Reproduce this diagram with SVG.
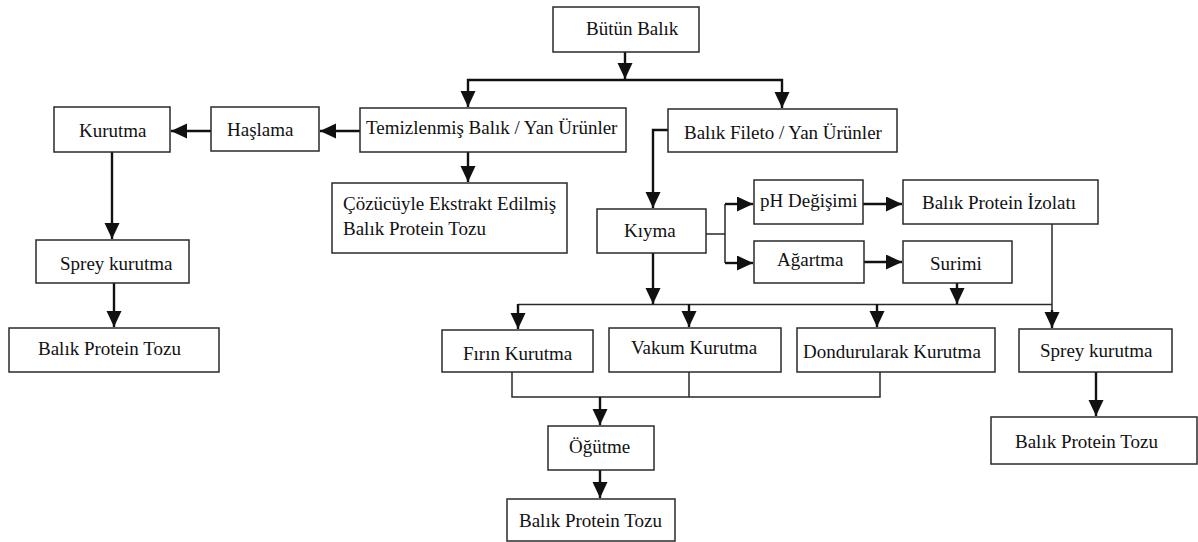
<svg xmlns="http://www.w3.org/2000/svg" width="1198" height="542" viewBox="0 0 1198 542">
<style>
.box{fill:#fff;stroke:#2a2a2a;stroke-width:1.5}
.t{font-family:"Liberation Serif","Times New Roman",Times,"Tinos","Noto Serif","DejaVu Serif","FreeSerif",serif;font-size:19px;fill:#111}
.a{fill:none;stroke:#111;stroke-width:2.4;marker-end:url(#ah)}
.l{fill:none;stroke:#2a2a2a;stroke-width:1.5}
</style>
<defs>
<marker id="ah" markerUnits="userSpaceOnUse" markerWidth="20" markerHeight="20" refX="16" refY="7.5" orient="auto">
<path d="M0,0 L16,7.5 L0,15 Z" fill="#111"/>
</marker>
</defs>
<rect width="1198" height="542" fill="#fff"/>
<g id="connectors">
<path class="a" d="M625,52 V79"/>
<path class="a" d="M625,80 H468 V107"/>
<path class="a" d="M625,80 H782 V108"/>
<path class="a" d="M360,131 H320"/>
<path class="a" d="M211,131 H171"/>
<path class="a" d="M112,152 V239"/>
<path class="a" d="M114,283 V327"/>
<path class="a" d="M468,152 V182"/>
<path class="a" d="M668,130 H653 V208"/>
<path class="l" d="M706,234 H725 M725,204 V263"/>
<path class="a" d="M725,204 H753"/>
<path class="a" d="M725,263 H753"/>
<path class="a" d="M863,204 H902"/>
<path class="a" d="M864,262 H902"/>
<path class="a" d="M653,253 V304"/>
<path class="l" d="M518,304.5 H1052"/>
<path class="a" d="M518,304 V329"/>
<path class="a" d="M689,304 V327"/>
<path class="a" d="M877,304 V327"/>
<path class="a" d="M957,283 V304"/>
<path class="l" d="M1052,224 V316"/>
<path class="a" d="M1052,310 V328"/>
<path class="l" d="M512,372 V397 H880 V372 M689,372 V397"/>
<path class="a" d="M600,397 V425"/>
<path class="a" d="M600,470 V498"/>
<path class="a" d="M1096,372 V416"/>
</g>
<g id="n-butun"><rect class="box" x="553" y="7" width="146" height="45"/><text class="t" x="586" y="35">Bütün Balık</text></g>
<g id="n-temiz"><rect class="box" x="360" y="108" width="266" height="44"/><text class="t" x="366" y="134">Temizlenmiş Balık / Yan Ürünler</text></g>
<g id="n-fileto"><rect class="box" x="668" y="109" width="229" height="43"/><text class="t" x="684" y="139">Balık Fileto / Yan Ürünler</text></g>
<g id="n-haslama"><rect class="box" x="211" y="107" width="108" height="44"/><text class="t" x="227" y="136">Haşlama</text></g>
<g id="n-kurutma"><rect class="box" x="54" y="107" width="116" height="45"/><text class="t" x="79" y="137">Kurutma</text></g>
<g id="n-sprey1"><rect class="box" x="36" y="240" width="153" height="43"/><text class="t" x="60" y="270">Sprey kurutma</text></g>
<g id="n-toz1"><rect class="box" x="9" y="328" width="210" height="44"/><text class="t" x="38" y="355">Balık Protein Tozu</text></g>
<g id="n-cozucu"><rect class="box" x="332" y="183" width="235" height="70"/><text class="t" x="343" y="210">Çözücüyle Ekstrakt Edilmiş</text><text class="t" x="343" y="235">Balık Protein Tozu</text></g>
<g id="n-kiyma"><rect class="box" x="597" y="209" width="109" height="44"/><text class="t" x="624" y="237">Kıyma</text></g>
<g id="n-ph"><rect class="box" x="754" y="180" width="109" height="44"/><text class="t" x="760" y="207">pH Değişimi</text></g>
<g id="n-agartma"><rect class="box" x="754" y="241" width="110" height="42"/><text class="t" x="777" y="266">Ağartma</text></g>
<g id="n-izolat"><rect class="box" x="903" y="180" width="195" height="44"/><text class="t" x="922" y="209">Balık Protein İzolatı</text></g>
<g id="n-surimi"><rect class="box" x="903" y="241" width="109" height="42"/><text class="t" x="930" y="270">Surimi</text></g>
<g id="n-firin"><rect class="box" x="442" y="330" width="151" height="42"/><text class="t" x="463" y="360">Fırın Kurutma</text></g>
<g id="n-vakum"><rect class="box" x="609" y="328" width="172" height="44"/><text class="t" x="631" y="354">Vakum Kurutma</text></g>
<g id="n-dond"><rect class="box" x="797" y="328" width="198" height="44"/><text class="t" x="803" y="358">Dondurularak Kurutma</text></g>
<g id="n-sprey2"><rect class="box" x="1019" y="329" width="153" height="43"/><text class="t" x="1040" y="357">Sprey kurutma</text></g>
<g id="n-toz2"><rect class="box" x="991" y="417" width="206" height="47"/><text class="t" x="1015" y="448">Balık Protein Tozu</text></g>
<g id="n-ogutme"><rect class="box" x="548" y="426" width="106" height="44"/><text class="t" x="569" y="453">Öğütme</text></g>
<g id="n-toz3"><rect class="box" x="507" y="499" width="168" height="42"/><text class="t" x="519" y="527">Balık Protein Tozu</text></g>
</svg>
